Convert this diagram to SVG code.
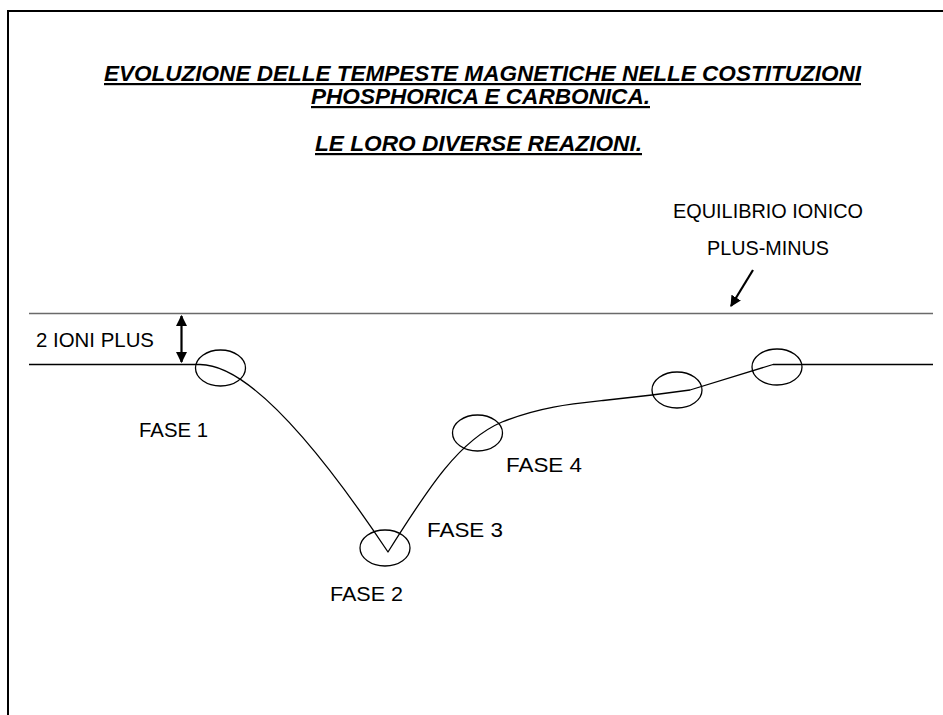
<svg xmlns="http://www.w3.org/2000/svg" width="943" height="715" viewBox="0 0 943 715">
<style>
.title{font-family:"Liberation Sans",Arial,sans-serif;font-size:22px;font-weight:bold;font-style:italic;text-decoration:underline;text-decoration-thickness:2.5px;fill:#000}
.lbl{font-family:"Liberation Sans",Arial,sans-serif;font-size:21px;fill:#000}
.ell{fill:none;stroke:#000;stroke-width:1.3}
.ref{stroke:#6a6a6a;stroke-width:1.3;fill:none}
.curve{fill:none;stroke:#000;stroke-width:1.3;stroke-linejoin:round}
.arr{stroke:#000;stroke-width:2.2;fill:none}
</style>
<defs>
<marker id="ah" viewBox="0 0 10 10" refX="9" refY="5" markerWidth="5" markerHeight="5" orient="auto-start-reverse" markerUnits="strokeWidth">
<path d="M0,0 L10,5 L0,10 z" fill="#000"/>
</marker>
</defs>
<rect width="943" height="715" fill="#fff"/>
<g id="frame">
<path d="M8,715 V11 H943" fill="none" stroke="#000" stroke-width="2"/>
</g>
<g id="title">
<text class="title" x="104" y="81" textLength="757" lengthAdjust="spacingAndGlyphs">EVOLUZIONE DELLE TEMPESTE MAGNETICHE NELLE COSTITUZIONI</text>
<text class="title" x="311" y="104" textLength="339" lengthAdjust="spacingAndGlyphs">PHOSPHORICA E CARBONICA.</text>
<text class="title" x="315" y="151" textLength="327" lengthAdjust="spacingAndGlyphs">LE LORO DIVERSE REAZIONI.</text>
</g>
<g id="connectors">
<line class="ref" x1="29" y1="313.5" x2="933" y2="313.5"/>
<path class="curve" d="M29,364.5 H200 C240,364.5 300,420 388,552 C430,485 460,440 502,422 C540,407 570,404 603,400.5 L652,395 L690,390 L773,364.5 H933"/>
<line class="arr" x1="181.5" y1="316" x2="181.5" y2="362" marker-start="url(#ah)" marker-end="url(#ah)"/>
<line class="arr" x1="753" y1="270" x2="731" y2="306" marker-end="url(#ah)"/>
</g>
<g id="fase1">
<ellipse class="ell" cx="220.5" cy="368" rx="25" ry="18"/>
<text class="lbl" x="139" y="437" textLength="69" lengthAdjust="spacingAndGlyphs">FASE 1</text>
</g>
<g id="fase2">
<ellipse class="ell" cx="385" cy="548" rx="25" ry="18"/>
<text class="lbl" x="330" y="601" textLength="73" lengthAdjust="spacingAndGlyphs">FASE 2</text>
</g>
<g id="fase3">
<text class="lbl" x="427" y="537" textLength="76" lengthAdjust="spacingAndGlyphs">FASE 3</text>
</g>
<g id="fase4">
<ellipse class="ell" cx="477.5" cy="433" rx="25" ry="18"/>
<text class="lbl" x="506" y="472" textLength="76" lengthAdjust="spacingAndGlyphs">FASE 4</text>
</g>
<g id="phase5">
<ellipse class="ell" cx="677" cy="390" rx="25" ry="18"/>
</g>
<g id="phase6">
<ellipse class="ell" cx="777" cy="367" rx="25" ry="18"/>
</g>
<g id="ioni">
<text class="lbl" x="36" y="347" textLength="118" lengthAdjust="spacingAndGlyphs">2 IONI PLUS</text>
</g>
<g id="equilibrio">
<text class="lbl" x="673" y="218" textLength="190" lengthAdjust="spacingAndGlyphs">EQUILIBRIO IONICO</text>
<text class="lbl" x="707" y="255" textLength="122" lengthAdjust="spacingAndGlyphs">PLUS-MINUS</text>
</g>
</svg>
